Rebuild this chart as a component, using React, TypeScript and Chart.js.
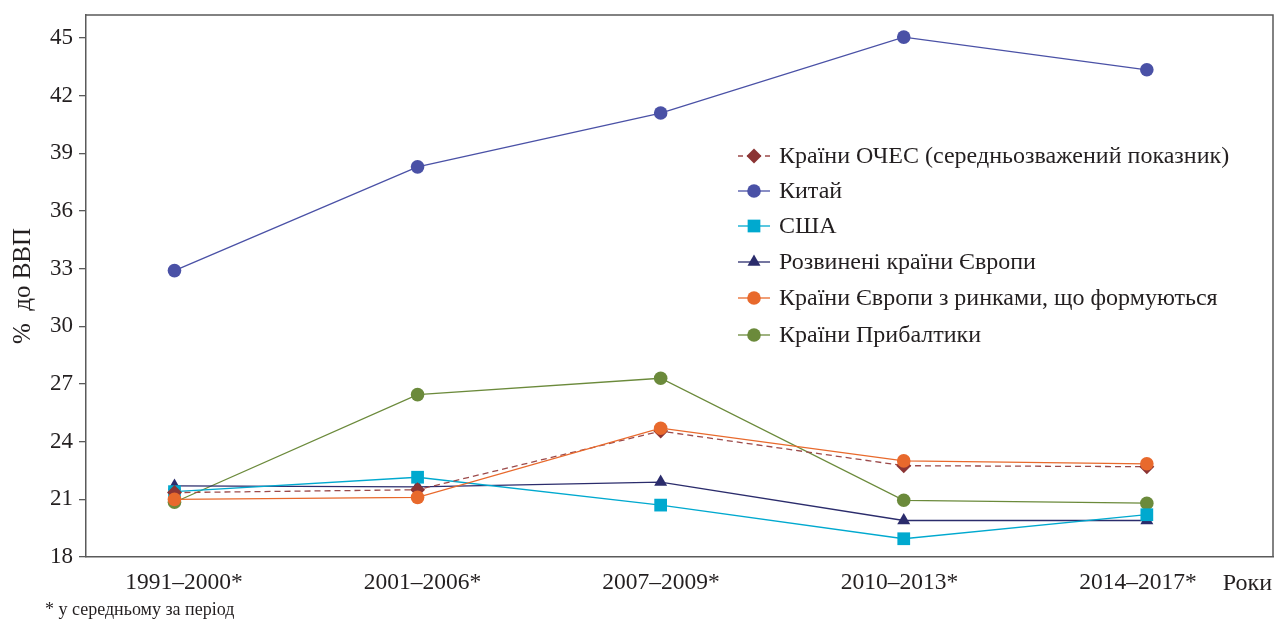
import React, { useEffect, useRef } from "react";
import { Chart, registerables } from "chart.js";

Chart.register(...registerables);

const categories = ["1991–2000*", "2001–2006*", "2007–2009*", "2010–2013*", "2014–2017*"];
const seriesNames = [
  "Країни ОЧЕС (середньозважений показник)",
  "Китай",
  "США",
  "Розвинені країни Європи",
  "Країни Європи з ринками, що формуються",
  "Країни Прибалтики",
];
const ochesValues = [21.35, 21.5, 24.55, 22.75, 22.7];
const chinaValues = [32.9, 38.3, 41.1, 45.05, 43.35];
const usaValues = [21.4, 22.15, 20.7, 18.95, 20.2];
const devEuropeValues = [21.7, 21.65, 21.9, 19.9, 19.9];
const emergingEuropeValues = [21.0, 21.1, 24.7, 23.0, 22.85];
const balticValues = [20.85, 26.45, 27.3, 20.95, 20.8];
const yTickStep = 3;
const yMin = 18;
const yMax = 46.2;
const yAxisTitle = "%  до ВВП";
const xAxisTitle = "Роки";
const footnote = "* у середньому за період";

const FONT = "'Liberation Serif', 'Times New Roman', serif";
const TEXT = "#231f20";
const AXIS = "#5a5a5a";

type Style = { color: string; line: string; point: string; radius: number; dash: number[]; order: number };
const styles: Style[] = [
  { color: "#8b3434", line: "#9c4a4a", point: "rectRot", radius: 7.5, dash: [6, 4], order: 2 },
  { color: "#4a51a6", line: "#4a51a6", point: "circle", radius: 6.8, dash: [], order: 0 },
  { color: "#00a9cf", line: "#00a9cf", point: "rect", radius: 9, dash: [], order: 3 },
  { color: "#2b2c6c", line: "#2b2c6c", point: "triangle", radius: 7.5, dash: [], order: 4 },
  { color: "#e8692c", line: "#e8692c", point: "circle", radius: 6.8, dash: [], order: 1 },
  { color: "#6b8a3b", line: "#6b8a3b", point: "circle", radius: 6.8, dash: [], order: 5 },
];
const allValues = [ochesValues, chinaValues, usaValues, devEuropeValues, emergingEuropeValues, balticValues];

function drawMarker(ctx: CanvasRenderingContext2D, kind: string, x: number, y: number, r: number, color: string) {
  ctx.save();
  ctx.fillStyle = color;
  ctx.beginPath();
  if (kind === "circle") {
    ctx.arc(x, y, r, 0, Math.PI * 2);
  } else if (kind === "rect") {
    const s = Math.SQRT1_2 * r;
    ctx.rect(x - s, y - s, 2 * s, 2 * s);
  } else if (kind === "rectRot") {
    ctx.moveTo(x, y - r);
    ctx.lineTo(x + r, y);
    ctx.lineTo(x, y + r);
    ctx.lineTo(x - r, y);
    ctx.closePath();
  } else if (kind === "triangle") {
    const w = (r * Math.sqrt(3)) / 2;
    ctx.moveTo(x, y - r);
    ctx.lineTo(x + w, y + r / 2);
    ctx.lineTo(x - w, y + r / 2);
    ctx.closePath();
  }
  ctx.fill();
  ctx.restore();
}

const extrasPlugin = {
  id: "extras",
  afterDraw(chart: any) {
    const { ctx, chartArea } = chart;
    const { left, top, right, bottom } = chartArea;
    ctx.save();
    ctx.strokeStyle = AXIS;
    ctx.lineWidth = 1.5;
    ctx.beginPath();
    ctx.moveTo(left, top);
    ctx.lineTo(right, top);
    ctx.lineTo(right, bottom);
    ctx.stroke();

    ctx.fillStyle = TEXT;
    ctx.font = `24px ${FONT}`;
    ctx.textBaseline = "alphabetic";
    ctx.textAlign = "right";
    ctx.fillText(xAxisTitle, 1272, 590);

    ctx.textAlign = "left";
    ctx.font = `18px ${FONT}`;
    ctx.fillText(footnote, 45, 615);

    const lx0 = 738;
    const lx1 = 770;
    const tx = 779;
    const rowY = [156, 191, 226, 262, 298, 335];
    ctx.font = `24px ${FONT}`;
    ctx.textBaseline = "middle";
    styles.forEach((s, i) => {
      const y = rowY[i];
      ctx.save();
      ctx.strokeStyle = s.line;
      ctx.lineWidth = 1.3;
      ctx.setLineDash(s.dash.length ? [5, 4] : []);
      ctx.beginPath();
      ctx.moveTo(lx0, y);
      ctx.lineTo(lx1, y);
      ctx.stroke();
      ctx.restore();
      drawMarker(ctx, s.point, (lx0 + lx1) / 2, y, s.radius, s.color);
      ctx.fillStyle = TEXT;
      ctx.fillText(seriesNames[i], tx, y + 1);
    });
    ctx.restore();
  },
};

export default function App() {
  const ref = useRef<HTMLCanvasElement | null>(null);
  useEffect(() => {
    if (!ref.current) return;
    const datasets = allValues.map((vals, i) => ({
      label: seriesNames[i],
      data: vals.map((v, j) => ({ x: j, y: v })),
      xAxisID: "x",
      borderColor: styles[i].line,
      backgroundColor: styles[i].color,
      pointBackgroundColor: styles[i].color,
      pointBorderColor: styles[i].color,
      pointBorderWidth: 0,
      pointStyle: styles[i].point,
      pointRadius: styles[i].radius,
      borderWidth: 1.3,
      borderDash: styles[i].dash,
      tension: 0,
      clip: false,
      order: styles[i].order,
    }));
    const chart = new Chart(ref.current, {
      type: "line",
      data: { datasets },
      plugins: [extrasPlugin],
      options: {
        animation: false,
        responsive: false,
        maintainAspectRatio: false,
        layout: { autoPadding: false, padding: { top: 15, right: 1, bottom: 0, left: 0 } },
        plugins: { legend: { display: false }, tooltip: { enabled: false } },
        scales: {
          x: {
            type: "linear",
            position: "bottom",
            weight: 0,
            min: -0.364,
            max: 4.519,
            afterFit: (s: any) => {
              s.height = 0;
              s.paddingLeft = 0;
              s.paddingRight = 0;
            },
            grid: { display: false, drawTicks: false },
            border: { display: true, color: AXIS, width: 1.5 },
            ticks: { display: false, stepSize: 1, includeBounds: false },
          },
          xLabels: {
            type: "linear",
            position: "bottom",
            weight: 1,
            min: -0.411,
            max: 4.566,
            afterFit: (s: any) => {
              s.height = 62;
              s.paddingLeft = 0;
              s.paddingRight = 0;
            },
            grid: { display: false, drawTicks: false },
            border: { display: false },
            ticks: {
              stepSize: 1,
              includeBounds: false,
              padding: 12,
              maxRotation: 0,
              autoSkip: false,
              color: TEXT,
              font: { family: FONT, size: 23.5 },
              callback: (v: any) => categories[v] ?? "",
            },
          },
          y: {
            type: "linear",
            min: yMin,
            max: yMax,
            afterFit: (s: any) => {
              s.width = 86;
              s.paddingTop = 0;
              s.paddingBottom = 0;
            },
            grid: { display: true, drawOnChartArea: false, drawTicks: true, tickLength: 7, color: AXIS, lineWidth: 1.3 },
            border: { display: true, color: AXIS, width: 1.5 },
            ticks: {
              stepSize: yTickStep,
              includeBounds: false,
              padding: 6,
              color: TEXT,
              font: { family: FONT, size: 23 },
            },
            title: {
              display: true,
              text: yAxisTitle,
              color: TEXT,
              font: { family: FONT, size: 25 },
              padding: { top: 8, bottom: 0 },
            },
          },
        },
      },
    } as any);
    return () => chart.destroy();
  }, []);
  return (
    <div style={{ position: "fixed", left: 0, top: 0, width: 1274, height: 619, background: "#fff" }}>
      <canvas ref={ref} width={1274} height={619} style={{ width: 1274, height: 619, display: "block" }} />
    </div>
  );
}
